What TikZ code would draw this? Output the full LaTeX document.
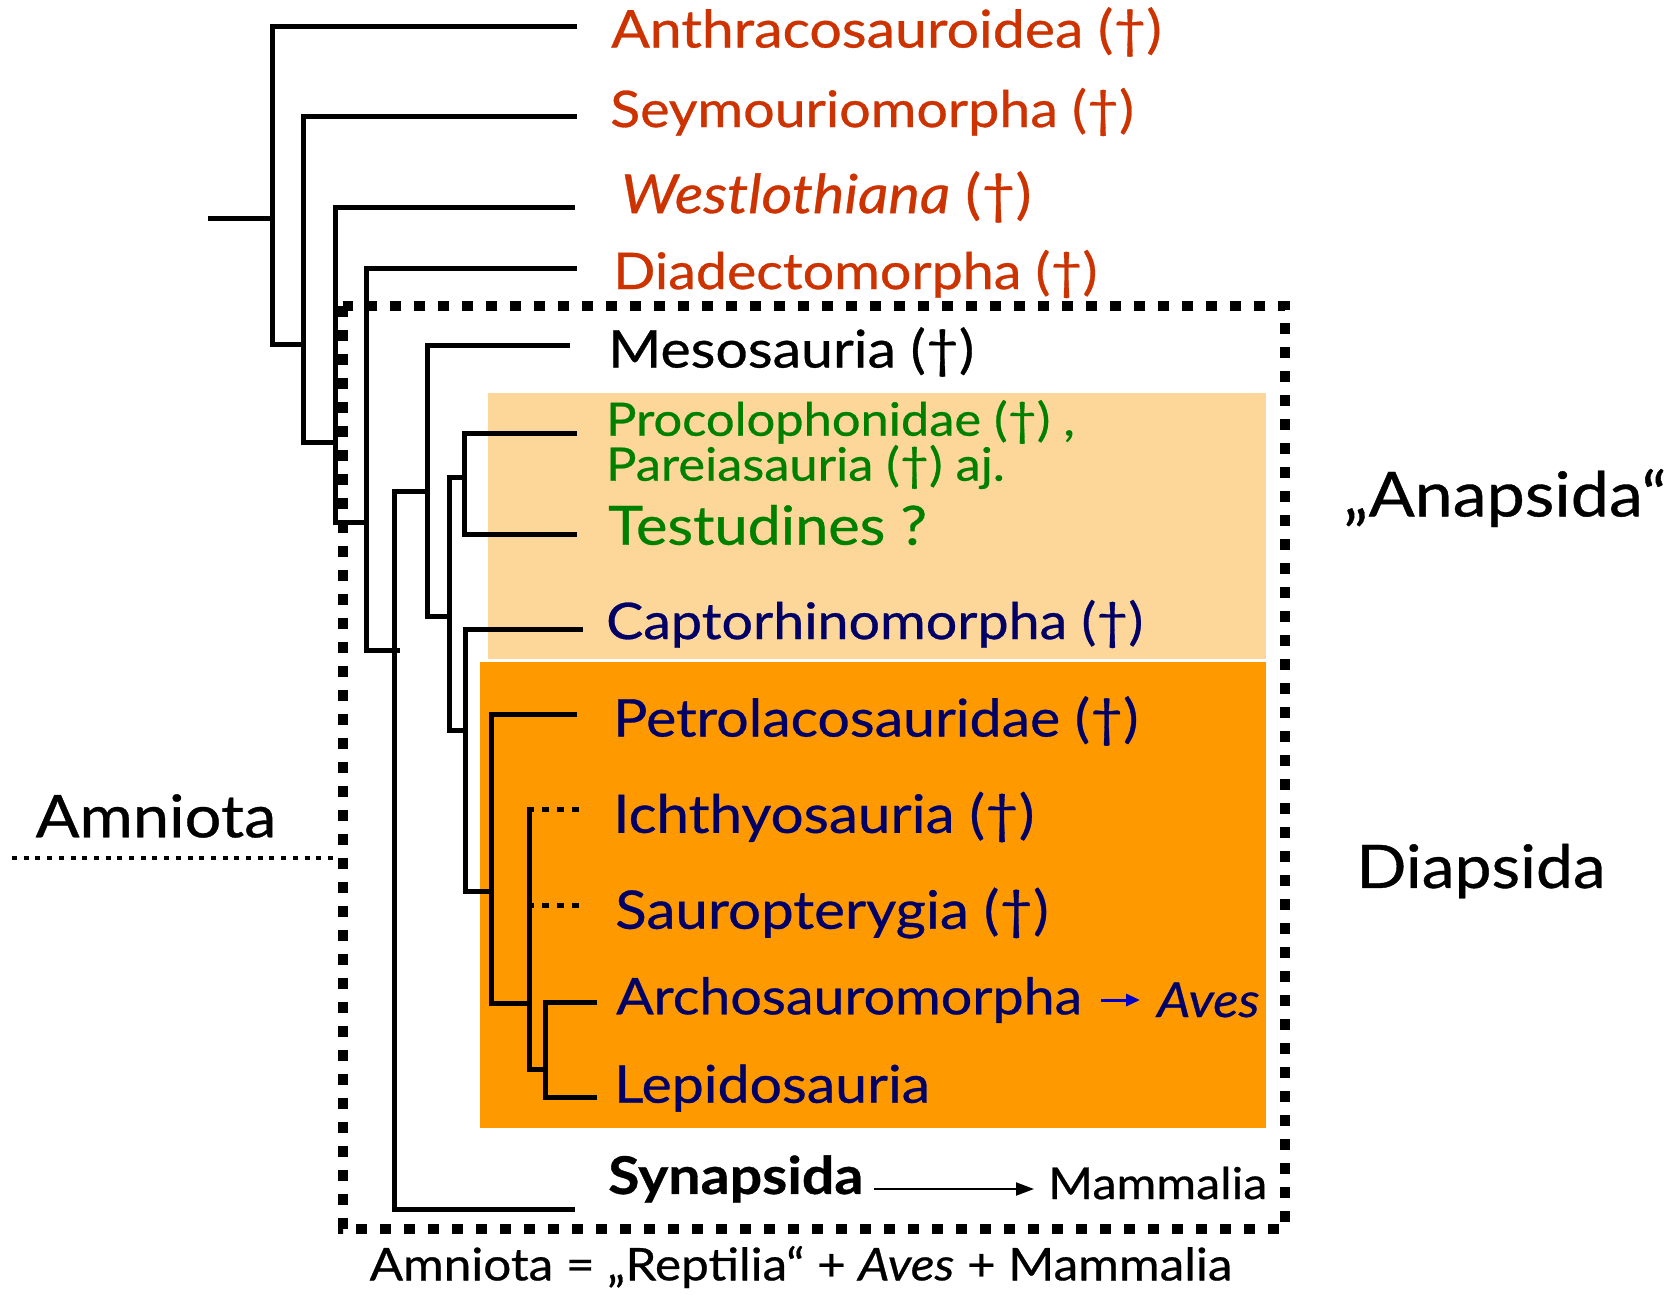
\documentclass[tikz,border=0pt]{standalone}
\usepackage{fontspec}
\setmainfont{Lato}[FakeStretch=1.1,FakeBold=0.6]
\usetikzlibrary{arrows.meta}
\definecolor{redor}{RGB}{204,51,0}
\definecolor{grn}{RGB}{0,128,0}
\definecolor{navyc}{RGB}{0,0,102}
\definecolor{lightor}{RGB}{253,214,153}
\definecolor{darkor}{RGB}{255,153,0}
\definecolor{arrblue}{RGB}{0,0,204}
\begin{document}
\begin{tikzpicture}[x=1pt,y=-1pt,
  branch/.style={line width=5pt,line join=miter},
  stub/.style={line width=5pt,dash pattern=on 7pt off 8pt},
  lab/.style={anchor=west,inner sep=0pt,font=\fontsize{52}{60}\selectfont},
  labs/.style={anchor=west,inner sep=0pt,font=\fontsize{50.5}{60}\selectfont},
  labl/.style={anchor=west,inner sep=0pt,font=\fontsize{53}{60}\selectfont},
  small/.style={anchor=west,inner sep=0pt,font=\fontsize{46}{52}\selectfont},
  side/.style={anchor=center,inner sep=0pt,font=\fontsize{60}{68}\selectfont}]
\useasboundingbox[fill=white] (0,0) rectangle (1672,1294);
% shaded groups
\fill[lightor] (488,393) rectangle (1266,659);
\fill[darkor] (480,662) rectangle (1266,1128);
% Amniota box
\draw[line width=10pt,dash pattern=on 11pt off 13pt] (343,306) rectangle (1285,1229);
\draw[line width=4pt,dash pattern=on 5pt off 6.7pt] (12,858) -- (333,858);
% tree
\draw[branch] (208,218) -- (272,218);
\draw[branch] (577,26) -- (272,26) -- (272,344) -- (303,344);
\draw[branch] (577,116) -- (303,116) -- (303,442) -- (335,442);
\draw[branch] (575,207) -- (335,207) -- (335,522) -- (366,522);
\draw[branch] (577,268) -- (366,268) -- (366,650) -- (400,650);
\draw[branch] (575,1209) -- (394,1209) -- (394,491) -- (427,491);
\draw[branch] (570,345) -- (427,345) -- (427,616) -- (449,616);
\draw[branch] (464,477) -- (449,477) -- (449,730) -- (465,730);
\draw[branch] (577,433) -- (464,433) -- (464,534) -- (577,534);
\draw[branch] (583,629) -- (465,629) -- (465,891) -- (491,891);
\draw[branch] (577,714) -- (491,714) -- (491,1003) -- (529,1003);
\draw[branch] (529,807) -- (529,1069) -- (545,1069);
\draw[stub] (527,809) -- (579,809);
\draw[stub] (527,905) -- (579,905);
\draw[branch] (597,1002) -- (545,1002) -- (545,1097) -- (597,1097);
% labels
\node[lab,text=redor] (anth) at (611,32) {Anthracosauroidea (†)};
\node[labs,text=redor] (seym) at (610,112) {Seymouriomorpha (†)};
\node[lab,text=redor,font=\fontsize{54}{60}\selectfont] (west) at (621,197) {\itshape Westlothiana\upshape\ (†)};
\node[labs,text=redor] (diad) at (613,274) {Diadectomorpha (†)};
\node[lab] (meso) at (608,352) {Mesosauria (†)};
\node[small,text=grn] (proc) at (606,422) {Procolophonidae (†) ,};
\node[small,text=grn] (pare) at (606,467) {Pareiasauria (†) aj.};
\node[lab,text=grn,font=\fontsize{54}{60}\selectfont] (test) at (608,525) {Testudines ?};
\node[labs,text=navyc] (capt) at (606,624) {Captorhinomorpha (†)};
\node[lab,text=navyc] (petr) at (613,721) {Petrolacosauridae (†)};
\node[labl,text=navyc] (icht) at (613,817) {Ichthyosauria (†)};
\node[labl,text=navyc] (saur) at (615,913) {Sauropterygia (†)};
\node[labs,text=navyc] (arch) at (616,1000) {Archosauromorpha};
\node[lab,text=navyc,font=\fontsize{48}{56}\selectfont] (aves) at (1157,1000) {\itshape Aves};
\node[lab,text=navyc] (lepi) at (614,1088) {Lepidosauria};
\node[lab,font=\fontsize{52}{60}\selectfont\bfseries] (syna) at (608,1179) {Synapsida};
\node[lab,font=\fontsize{44}{50}\selectfont] (mamm) at (1048,1183) {Mammalia};
\draw[line width=3pt,arrblue,-{Triangle[length=14pt,width=12pt]}] (1101,1000) -- (1140,1000);
\draw[line width=2pt,-{Triangle[length=18pt,width=13pt]}] (874,1189) -- (1034,1189);
\node[side,font=\fontsize{62}{70}\selectfont] (anap) at (1505,498) {„Anapsida“};
\node[side] (diap) at (1481,871) {Diapsida};
\node[side,font=\fontsize{59}{66}\selectfont] (amni) at (156,816) {Amniota};
\node[anchor=center,inner sep=0pt,font=\fontsize{45}{50}\selectfont] (foot) at (801,1267) {Amniota = „Reptilia“ + \itshape Aves\upshape\ + Mammalia};
\end{tikzpicture}
\end{document}
